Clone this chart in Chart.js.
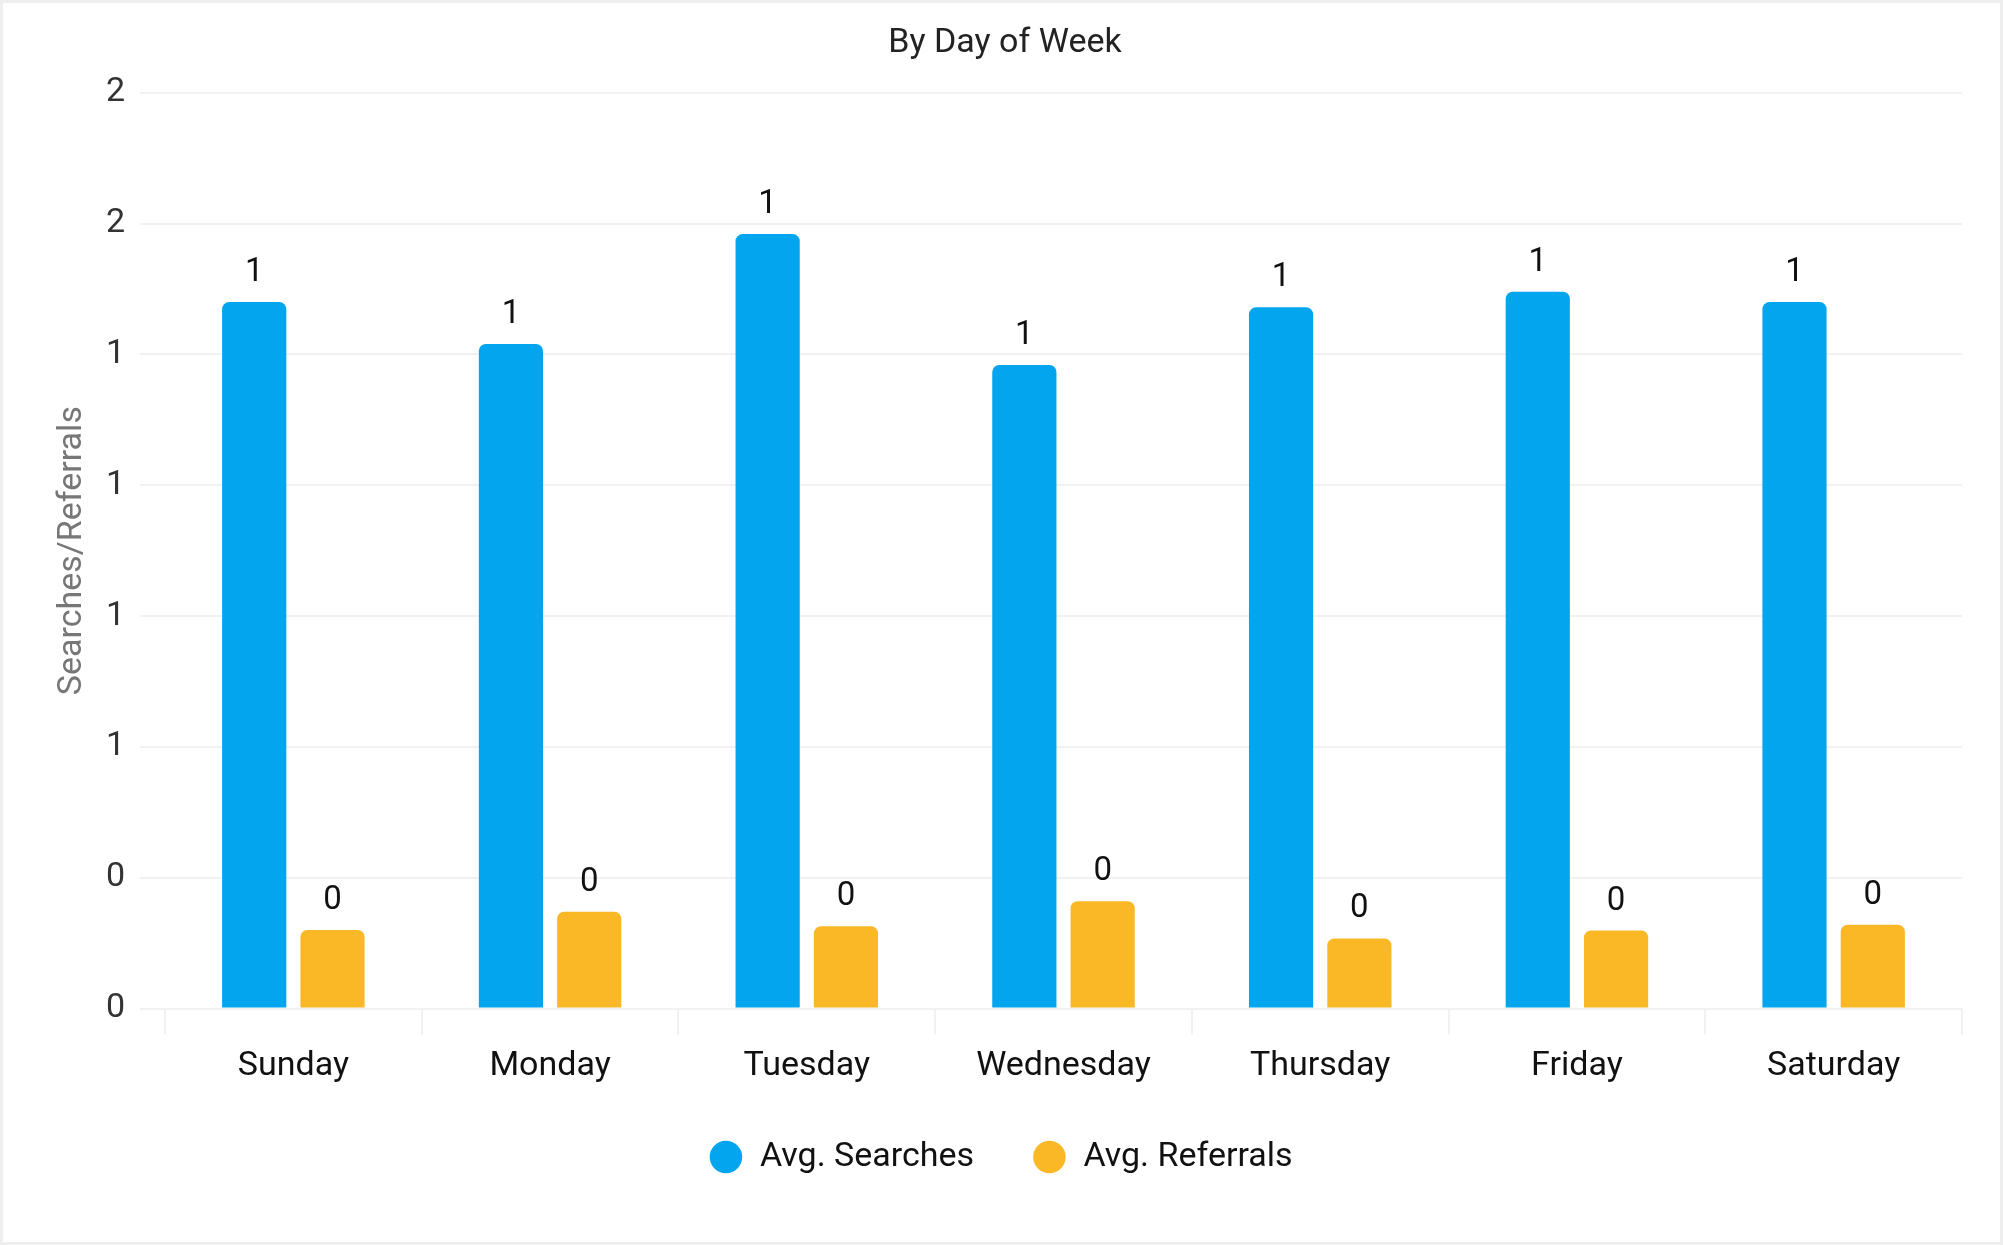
<!DOCTYPE html>
<html>
<head>
<meta charset="utf-8">
<title>By Day of Week</title>
<script src="https://cdn.jsdelivr.net/npm/chart.js@4"></script>
<style>
  html, body { margin: 0; padding: 0; background: #fff; }
  #frame {
    position: absolute; left: 0; top: 0;
    width: 2003px; height: 1245px;
    box-sizing: border-box;
    border: 3px solid #eeeeee;
    background: #fff;
  }
  #wrap { position: relative; width: 1997px; height: 1239px; }
</style>
</head>
<body>
<div id="frame"><div id="wrap"><canvas id="dow"></canvas></div></div>
<script>
// Data
const DAYS = ["Sunday", "Monday", "Tuesday", "Wednesday", "Thursday", "Friday", "Saturday"];
const AVG_SEARCHES = [1.35, 1.27, 1.48, 1.23, 1.34, 1.37, 1.35];
const AVG_REFERRALS = [0.15, 0.185, 0.157, 0.205, 0.134, 0.149, 0.16];
const Y_MAX = 1.75;
const Y_STEP = 0.25;

const COLORS = { searches: "#03a6ee", referrals: "#fbb826", grid: "#f1f1f1" };
const FONT = "Roboto, 'Noto Sans', sans-serif";

// Draw the rounded value above every bar (no datalabels plugin offline).
const valueLabels = {
  id: "valueLabels",
  afterDatasetsDraw(chart) {
    const ctx = chart.ctx;
    ctx.save();
    ctx.font = "33px " + FONT;
    ctx.fillStyle = "#111";
    ctx.textAlign = "center";
    ctx.textBaseline = "alphabetic";
    chart.data.datasets.forEach((ds, i) => {
      chart.getDatasetMeta(i).data.forEach((bar, j) => {
        ctx.fillText(Number(ds.data[j]).toFixed(0), bar.x, bar.y - 21);
      });
    });
    ctx.restore();
  },
};

// Legend padding is kept small vertically; trailing spaces on the labels
// widen the horizontal gap between the two items instead.
const LEGEND_SEARCHES = "Avg. Searches  ";
const LEGEND_REFERRALS = "Avg. Referrals ";

new Chart(document.getElementById("dow").getContext("2d"), {
  type: "bar",
  data: {
    labels: DAYS,
    datasets: [
      {
        label: LEGEND_SEARCHES,
        data: AVG_SEARCHES,
        backgroundColor: COLORS.searches,
        borderRadius: 7,
        borderSkipped: "start",
        categoryPercentage: 0.61,
        barPercentage: 0.82,
      },
      {
        label: LEGEND_REFERRALS,
        data: AVG_REFERRALS,
        backgroundColor: COLORS.referrals,
        borderRadius: 7,
        borderSkipped: "start",
        categoryPercentage: 0.61,
        barPercentage: 0.82,
      },
    ],
  },
  options: {
    responsive: true,
    maintainAspectRatio: false,
    animation: false,
    layout: { padding: { left: 45, right: 38, top: 0, bottom: 58 } },
    plugins: {
      title: {
        display: true,
        text: "By Day of Week",
        color: "#222",
        font: { family: FONT, size: 34, weight: "normal" },
        padding: { top: 20, bottom: 29 },
      },
      legend: {
        position: "bottom",
        labels: {
          usePointStyle: true,
          pointStyle: "circle",
          boxWidth: 34,
          boxHeight: 23,
          padding: 41.5,
          color: "#111",
          font: { family: FONT, size: 34 },
        },
      },
      tooltip: { enabled: false },
    },
    scales: {
      x: {
        grid: {
          color: COLORS.grid,
          lineWidth: 2,
          drawOnChartArea: false,
          tickLength: 26,
        },
        border: { color: COLORS.grid, width: 2 },
        ticks: { color: "#111", padding: 15, font: { family: FONT, size: 34, lineHeight: 1.0 } },
      },
      y: {
        min: 0,
        max: Y_MAX,
        afterFit(scale) { scale.width = 117; },
        grid: { color: COLORS.grid, lineWidth: 2, tickLength: 25 },
        border: { display: false },
        ticks: {
          stepSize: Y_STEP,
          padding: 15,
          color: "#333",
          font: { family: FONT, size: 34 },
          callback: (v) => Number(v).toFixed(0),
        },
        title: {
          display: true,
          text: "Searches/Referrals",
          color: "#777",
          font: { family: FONT, size: 34 },
          padding: { top: 4, bottom: 4 },
        },
      },
    },
  },
  plugins: [valueLabels],
});
</script>
</body>
</html>
